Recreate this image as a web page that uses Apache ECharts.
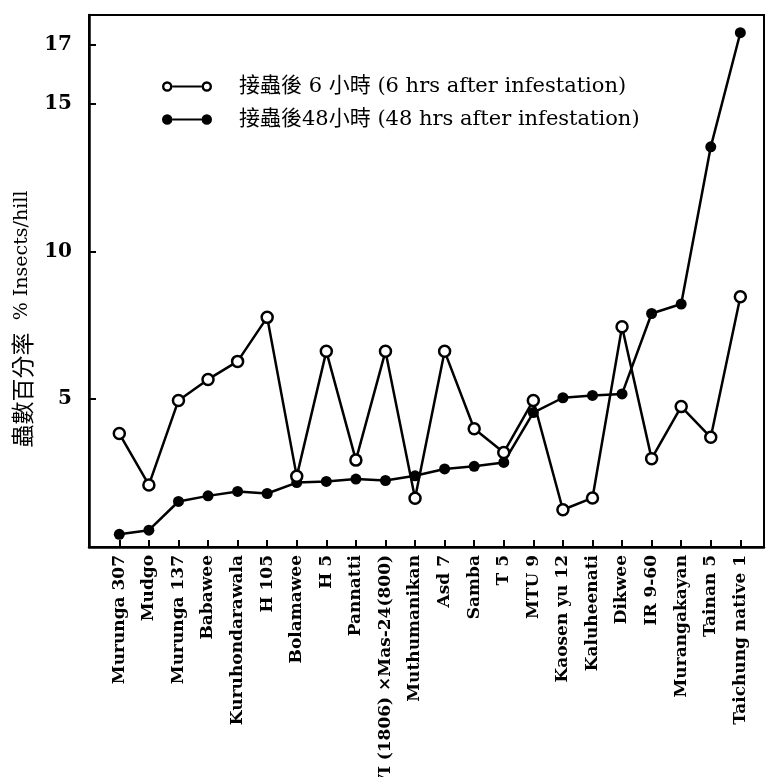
<!DOCTYPE html>
<html>
<head>
<meta charset="utf-8">
<script src="https://cdn.jsdelivr.net/npm/echarts@6/dist/echarts.min.js"></script>
<style>
html,body{margin:0;padding:0;background:#fff;}
#chart{width:770px;height:777px;}
</style>
</head>
<body>
<div id="chart"></div>
<script>
const categories = ['Murunga 307','Mudgo','Murunga 137','Babawee','Kuruhondarawala','H 105','Bolamawee','H 5','Pannatti','VI (1806) ×Mas-24(800)','Muthumanikan','Asd 7','Samba','T 5','MTU 9','Kaosen yu 12','Kaluheenati','Dikwee','IR 9-60','Murangakayan','Tainan 5','Taichung native 1'];
const hrs6 = [3.84,2.10,4.96,5.67,6.28,7.77,2.39,6.62,2.94,6.62,1.65,6.62,4.00,3.20,4.96,1.26,1.66,7.45,2.99,4.75,3.71,8.47];
const hrs48 = [0.43,0.57,1.54,1.73,1.88,1.81,2.18,2.22,2.30,2.25,2.41,2.64,2.73,2.86,4.55,5.05,5.13,5.18,7.90,8.22,13.54,17.40];
const yTickLabels = [5,10,15,17];
const seriesNames = ['接蟲後 6 小時 (6 hrs after infestation)','接蟲後48小時 (48 hrs after infestation)'];
const yAxisTitleCJK = '蟲數百分率';
const yAxisTitleEN = '% Insects/hill';

const serif = '"DejaVu Serif","Liberation Serif","Noto Sans CJK TC",serif';
const openIcon = 'path://M1,6 A5,5 0 1,1 11,6 A5,5 0 1,1 1,6 Z M3.3,6 A2.7,2.7 0 1,0 8.7,6 A2.7,2.7 0 1,0 3.3,6 Z M11,5 L39,5 L39,7 L11,7 Z M39,6 A5,5 0 1,1 49,6 A5,5 0 1,1 39,6 Z M41.3,6 A2.7,2.7 0 1,0 46.7,6 A2.7,2.7 0 1,0 41.3,6 Z';
const fillIcon = 'path://M1,6 A5,5 0 1,1 11,6 A5,5 0 1,1 1,6 Z M11,5 L39,5 L39,7 L11,7 Z M39,6 A5,5 0 1,1 49,6 A5,5 0 1,1 39,6 Z';

const chart = echarts.init(document.getElementById('chart'));
const idx = categories.map((c,i)=>i);
chart.setOption({
  animation:false,
  backgroundColor:'#fff',
  grid:{left:89,right:6,top:15,bottom:230,outerBoundsMode:'none',containLabel:false,show:true,borderColor:'#000',borderWidth:2,backgroundColor:'transparent'},
  legend:{
    orient:'vertical',left:157,top:71,itemWidth:50,itemHeight:12,itemGap:12,
    textStyle:{fontFamily:serif,fontSize:21,color:'#000',padding:[0,0,0,22]},
    data:[
      {name:seriesNames[0],icon:openIcon,itemStyle:{color:'#000',borderWidth:0}},
      {name:seriesNames[1],icon:fillIcon,itemStyle:{color:'#000',borderWidth:0}}
    ]
  },
  xAxis:{
    type:'value',min:-1.025,max:21.8,
    axisLine:{show:true,onZero:false,lineStyle:{color:'#000',width:2.5}},
    axisTick:{show:true,inside:true,length:7,lineStyle:{color:'#000',width:2},customValues:idx},
    axisLabel:{rotate:90,margin:8,fontFamily:serif,fontWeight:'bold',fontSize:17,color:'#000',customValues:idx,
      formatter:(v)=>categories[Math.round(v)]},
    splitLine:{show:false}
  },
  yAxis:{
    type:'value',min:0,max:18,
    name:'{c|'+yAxisTitleCJK+'}  '+yAxisTitleEN,nameLocation:'middle',nameRotate:90,nameGap:47,
    nameTextStyle:{fontFamily:serif,fontSize:19,color:'#000',padding:[0,76,0,0],
      rich:{c:{fontFamily:'"Noto Sans CJK TC",serif',fontSize:23,color:'#000'}}},
    axisLine:{show:true,onZero:false,lineStyle:{color:'#000',width:2.5}},
    axisTick:{show:true,inside:true,length:7,lineStyle:{color:'#000',width:2},customValues:yTickLabels},
    axisLabel:{margin:17,fontFamily:serif,fontWeight:'bold',fontSize:20,color:'#000',customValues:yTickLabels},
    splitLine:{show:false}
  },
  series:[
    {name:seriesNames[0],type:'line',data:hrs6.map((v,i)=>[i,v]),symbol:'circle',symbolSize:11,
      lineStyle:{color:'#000',width:2.5},itemStyle:{color:'#fff',borderColor:'#000',borderWidth:2.5},z:3},
    {name:seriesNames[1],type:'line',data:hrs48.map((v,i)=>[i,v]),symbol:'circle',symbolSize:11,
      lineStyle:{color:'#000',width:2.5},itemStyle:{color:'#000',borderColor:'#000',borderWidth:0},z:2}
  ]
});
</script>
</body>
</html>
